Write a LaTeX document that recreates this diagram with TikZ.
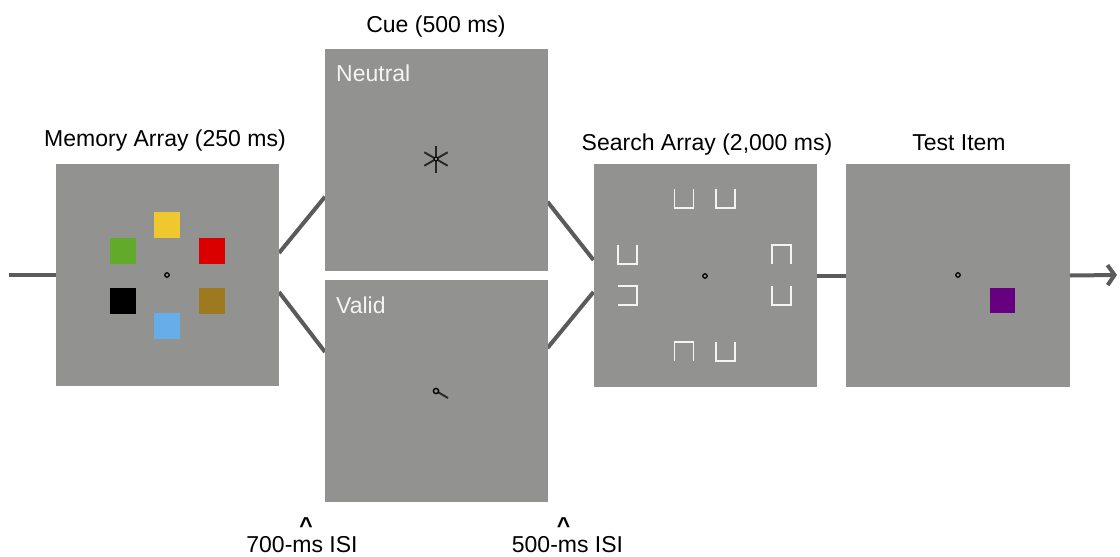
\documentclass[tikz,border=0pt]{standalone}
\usepackage{fontspec}
\setmainfont{Liberation Sans}
\usetikzlibrary{arrows.meta,backgrounds}
\definecolor{panel}{HTML}{929390}
\definecolor{linkgray}{HTML}{5B5B5B}
\definecolor{cyellow}{HTML}{EFC82F}
\definecolor{cgreen}{HTML}{62AA2A}
\definecolor{cred}{HTML}{DB0000}
\definecolor{cbrown}{HTML}{9D7A1F}
\definecolor{cblue}{HTML}{66AEEA}
\definecolor{cpurple}{HTML}{660080}
\definecolor{offwhite}{HTML}{F4F4F4}
\begin{document}
\begin{tikzpicture}[x=1pt,y=-1pt,
  panelbox/.style={fill=panel,draw=none,inner sep=0,outer sep=0},
  chip/.style={minimum width=26pt,minimum height=26pt,inner sep=0,outer sep=0,draw=none},
  lbl/.style={font=\fontsize{23}{27}\selectfont,inner sep=0,anchor=base},
  isilbl/.style={font=\fontsize{23}{19}\selectfont,inner sep=0,anchor=south,align=center},
  link/.style={draw=linkgray,line width=4pt},
  fixdot/.style={draw=black,line width=1.3pt,fill=panel},
  cueline/.style={draw=black!85,line width=1.9pt},
  bracket/.style={draw=offwhite,line width=1.8pt},
  brU/.pic={\draw[bracket] (-9.5,-9.5) -- (-9.5,9.5) -- (9.5,9.5) -- (9.5,-9.5);},
  brN/.pic={\draw[bracket] (-9.5,9.5) -- (-9.5,-9.5) -- (9.5,-9.5) -- (9.5,9.5);},
  brC/.pic={\draw[bracket] (-9.5,-9.5) -- (9.5,-9.5) -- (9.5,9.5) -- (-9.5,9.5);}]
\useasboundingbox (0,0) rectangle (1120,557);

% panels
\node[panelbox,minimum width=223pt,minimum height=222pt] (mem) at (167.5,275) {};
\node[panelbox,minimum width=222.5pt,minimum height=222.5pt] (neu) at (436.25,159.75) {};
\node[panelbox,minimum width=222.5pt,minimum height=222.5pt] (val) at (436.25,390.75) {};
\node[panelbox,minimum width=223.5pt,minimum height=223pt] (srch) at (705.25,275.5) {};
\node[panelbox,minimum width=224pt,minimum height=223pt] (tst) at (958,275.5) {};

% connectors
\coordinate (start) at (9,275);
\coordinate (finish) at (1117,275);
\begin{scope}[on background layer]
\draw[link] (start) -- (mem.west);
\draw[link] ([yshift=22pt]mem.east) -- ([yshift=-37pt]neu.west);
\draw[link] ([yshift=-17pt]mem.east) -- ([yshift=38.75pt]val.west);
\draw[link] ([yshift=-42pt]neu.east) -- ([yshift=15.5pt]srch.west);
\draw[link] ([yshift=42.75pt]val.east) -- ([yshift=-16.5pt]srch.west);
\draw[link] (srch.east) -- (tst.west);
\end{scope}
\draw[link,-{Straight Barb[length=7pt,width=20pt]}] (tst.east) -- (finish);

% memory array
\node[chip,fill=cyellow] (sy) at (167,225) {};
\node[chip,fill=cgreen] (sg) at (123,251) {};
\node[chip,fill=cred] (sr) at (212,251) {};
\node[chip,fill=black] (sk) at (123,301) {};
\node[chip,fill=cbrown] (sb) at (212,301) {};
\node[chip,fill=cblue] (sl) at (167,326) {};
\draw[fixdot] (167,275) circle[radius=2.2];

% neutral cue
\foreach \a in {90,30,150}
  \draw[cueline] (436,159) ++(\a:13.5) -- ++(\a+180:27);
\draw[fixdot,line width=1.1pt] (436,159) circle[radius=2];

% valid cue
\draw[cueline] (438.3,392.3) -- (448,398);
\draw[fixdot,line width=1.4pt] (436,391) circle[radius=2.6];

% search array
\pic at (684,198.5) {brU};
\pic at (725.5,198.5) {brU};
\pic at (627.5,254.5) {brU};
\pic at (627.5,295.5) {brC};
\pic at (781.5,254.5) {brN};
\pic at (781.5,295.5) {brU};
\pic at (684,351.5) {brN};
\pic at (725.5,351.5) {brU};
\draw[fixdot] (705,276) circle[radius=2.2];

% test item
\draw[fixdot] (958,275) circle[radius=2.2];
\node[chip,fill=cpurple,minimum width=25pt,minimum height=25pt] (sp) at (1002.5,300.5) {};

% labels
\node[lbl] (tcue) at (436,32.7) {Cue (500 ms)};
\node[lbl] (tmem) at (165,146.5) {Memory Array (250 ms)};
\node[lbl] (tsearch) at (707,150.5) {Search Array (2,000 ms)};
\node[lbl] (ttest) at (959,150.5) {Test Item};
\node[lbl,anchor=base west,text=offwhite] (tneu) at (336,81.7) {Neutral};
\node[lbl,anchor=base west,text=offwhite] (tval) at (336,313) {Valid};
\node[isilbl] (isi1) at (302,553) {\hspace*{8pt}{\bfseries\textasciicircum}\\700-ms ISI};
\node[isilbl] (isi2) at (567.5,553) {{\bfseries\textasciicircum}\hspace*{8pt}\\500-ms ISI};
\end{tikzpicture}
\end{document}
